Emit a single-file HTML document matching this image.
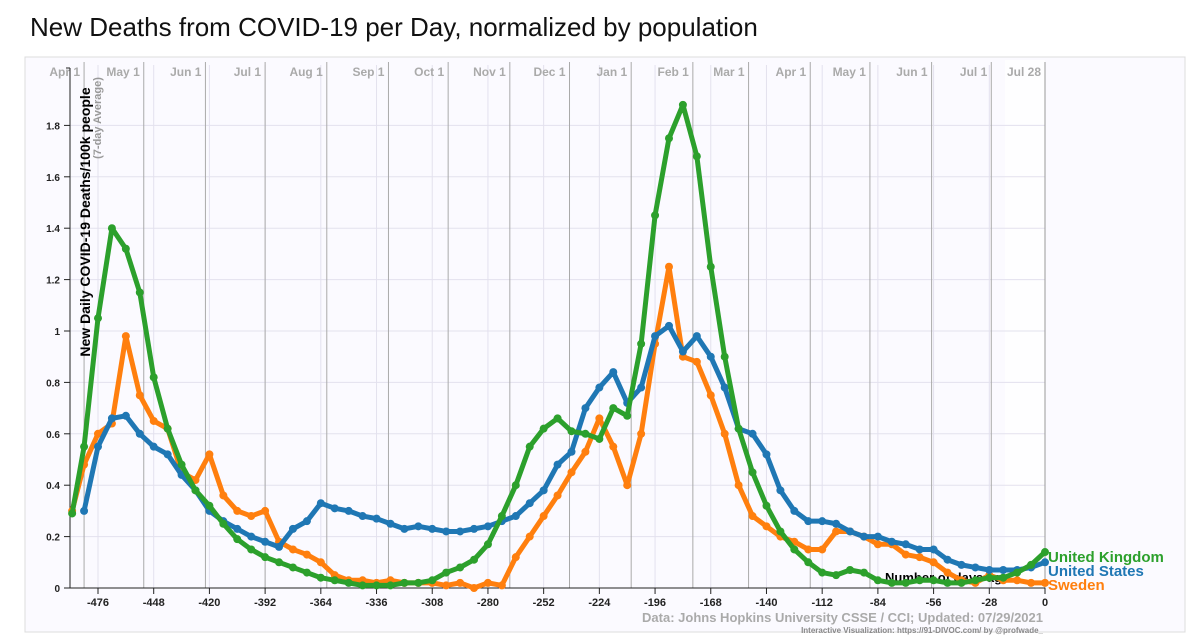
<!DOCTYPE html>
<html><head><meta charset="utf-8">
<style>
body{margin:0;background:#fff;width:1200px;height:637px;overflow:hidden;font-family:"Liberation Sans",sans-serif;}
#title{position:absolute;left:30px;top:12px;font-size:26px;color:#111;}
</style></head>
<body>
<div id="title">New Deaths from COVID-19 per Day, normalized by population</div>
<svg id="chart" width="1200" height="637" style="position:absolute;left:0;top:0"></svg>
<script>
const days = [-489,-483,-476,-469,-462,-455,-448,-441,-434,-427,-420,-413,-406,-399,-392,-385,-378,-371,-364,-357,-350,-343,-336,-329,-322,-315,-308,-301,-294,-287,-280,-273,-266,-259,-252,-245,-238,-231,-224,-217,-210,-203,-196,-189,-182,-175,-168,-161,-154,-147,-140,-133,-126,-119,-112,-105,-98,-91,-84,-77,-70,-63,-56,-49,-42,-35,-28,-21,-14,-7,0];
const ukValues = [0.29,0.55,1.05,1.40,1.32,1.15,0.82,0.62,0.48,0.38,0.32,0.25,0.19,0.15,0.12,0.10,0.08,0.06,0.04,0.03,0.02,0.01,0.01,0.01,0.02,0.02,0.03,0.06,0.08,0.11,0.17,0.28,0.40,0.55,0.62,0.66,0.61,0.60,0.58,0.70,0.67,0.95,1.45,1.75,1.88,1.68,1.25,0.90,0.62,0.45,0.32,0.22,0.15,0.10,0.06,0.05,0.07,0.06,0.03,0.02,0.02,0.03,0.03,0.02,0.02,0.03,0.04,0.04,0.06,0.09,0.14];
const usValues = [null,0.30,0.55,0.66,0.67,0.60,0.55,0.52,0.44,0.38,0.30,0.26,0.23,0.20,0.18,0.16,0.23,0.26,0.33,0.31,0.30,0.28,0.27,0.25,0.23,0.24,0.23,0.22,0.22,0.23,0.24,0.26,0.28,0.33,0.38,0.48,0.53,0.70,0.78,0.84,0.72,0.78,0.98,1.02,0.92,0.98,0.90,0.78,0.62,0.60,0.52,0.38,0.30,0.26,0.26,0.25,0.22,0.20,0.20,0.18,0.17,0.15,0.15,0.11,0.09,0.08,0.07,0.07,0.07,0.08,0.10];
const seValues = [0.30,0.48,0.60,0.64,0.98,0.75,0.65,0.62,0.45,0.42,0.52,0.36,0.30,0.28,0.30,0.18,0.15,0.13,0.10,0.05,0.03,0.03,0.02,0.03,0.02,0.02,0.02,0.01,0.02,0.00,0.02,0.01,0.12,0.20,0.28,0.36,0.45,0.53,0.66,0.55,0.40,0.60,0.95,1.25,0.90,0.88,0.75,0.60,0.40,0.28,0.24,0.20,0.18,0.15,0.15,0.22,0.22,0.20,0.17,0.17,0.13,0.12,0.10,0.06,0.03,0.02,0.05,0.03,0.03,0.02,0.02];
const xTicks = [-476,-448,-420,-392,-364,-336,-308,-280,-252,-224,-196,-168,-140,-112,-84,-56,-28,0];
const yTicks = [0,0.2,0.4,0.6,0.8,1,1.2,1.4,1.6,1.8];
const monthLabels = ["Apr 1","May 1","Jun 1","Jul 1","Aug 1","Sep 1","Oct 1","Nov 1","Dec 1","Jan 1","Feb 1","Mar 1","Apr 1","May 1","Jun 1","Jul 1","Jul 28"];
const monthDays = [-483,-453,-422,-392,-361,-330,-300,-269,-239,-208,-177,-149,-118,-88,-57,-27,0];

const NS="http://www.w3.org/2000/svg";
const svg=document.getElementById('chart');
const X0=1045, XS=1.9895, Y0=588, YS=257;
function xs(d){return X0+d*XS;}
function ys(v){return Y0-v*YS;}
function el(tag,attrs,parent){const e=document.createElementNS(NS,tag);for(const k in attrs)e.setAttribute(k,attrs[k]);(parent||svg).appendChild(e);return e;}

const bg=el('rect',{x:25,y:57,width:1160,height:575,fill:'#fbfaff',stroke:'#ddd'});


const fade=el('rect',{x:1005,y:60,width:40,height:528,fill:'#fff',opacity:0.7});



yTicks.forEach(v=>{
  const g=el('line',{x1:70,x2:1045,y1:ys(v),y2:ys(v),stroke:'#e3e1ee','stroke-width':1});
  
  
  el('line',{x1:64,x2:70,y1:ys(v),y2:ys(v),stroke:'#222'});
  const t=el('text',{x:60,y:ys(v)+4,'text-anchor':'end','font-size':10,'font-weight':'bold',fill:'#222'});
  t.textContent=v;
  
  
});
xTicks.forEach(d=>{
  const g=el('line',{x1:xs(d),x2:xs(d),y1:65,y2:588,stroke:'#e3e1ee'});
  
  
  el('line',{x1:xs(d),x2:xs(d),y1:588,y2:594,stroke:'#222'});
  const t=el('text',{x:xs(d),y:606,'text-anchor':'middle','font-size':11,'font-weight':'bold',fill:'#222'});
  t.textContent=d;
  
  
});
monthDays.forEach((d,i)=>{
  const l=el('line',{x1:xs(d),x2:xs(d),y1:62,y2:588,stroke:i===monthDays.length-1?'#999':'#aaa','stroke-width':1});
  
  
  const t=el('text',{x:xs(d)-4,y:76,'text-anchor':'end','font-size':12,'font-weight':'bold',fill:'#aaa'});
  t.textContent=monthLabels[i];
  
  
});
el('line',{x1:70,x2:70,y1:68,y2:588,stroke:'#222'});
el('line',{x1:66,x2:70,y1:68,y2:68,stroke:'#222'});
el('line',{x1:70,x2:1045,y1:588,y2:588,stroke:'#222'});

const nd=el('text',{x:1010,y:582,'text-anchor':'end','font-size':13,'font-weight':'bold',fill:'#000'});
nd.textContent='Number of days ago';



const yt=el('text',{transform:'translate(90,222) rotate(-90)','text-anchor':'middle','font-size':14,'font-weight':'bold',fill:'#000'});
yt.textContent='New Daily COVID-19 Deaths/100k people';


const ys2=el('text',{transform:'translate(101,118) rotate(-90)','text-anchor':'middle','font-size':11,'font-weight':'bold',fill:'#999'});
ys2.textContent='(7-day Average)';



function series(vals,color,name){
  const g=el('g',{});
  
  
  let d='';let started=false;
  days.forEach((day,i)=>{const v=vals[i];if(v===null)return;d+=(started?'L':'M')+xs(day)+' '+ys(v)+' ';started=true;});
  el('path',{d:d,fill:'none',stroke:color,'stroke-width':5,'stroke-linejoin':'round'},g);
  days.forEach((day,i)=>{const v=vals[i];if(v===null)return;
    const c=el('circle',{cx:xs(day),cy:ys(v),r:4,fill:color},g);
    
    
  });
}
series(seValues,'#ff7f0e','sweden-series');
series(usValues,'#1f77b4','united-states-series');
series(ukValues,'#2ca02c','united-kingdom-series');

[['United Kingdom','#2ca02c',562,'legend-united-kingdom'],['United States','#1f77b4',576,'legend-united-states'],['Sweden','#ff7f0e',590,'legend-sweden']].forEach(l=>{
  const t=el('text',{x:1048,y:l[2],'font-size':15,'font-weight':'bold',fill:l[1]});
  t.textContent=l[0];
  
  
});
const src=el('text',{x:1043,y:622,'text-anchor':'end','font-size':13,'font-weight':'bold',fill:'#aaa'});
src.textContent='Data: Johns Hopkins University CSSE / CCI; Updated: 07/29/2021';


const cr=el('text',{x:1043,y:633,'text-anchor':'end','font-size':8,'font-weight':'bold',fill:'#888'});
cr.textContent='Interactive Visualization: https://91-DIVOC.com/ by @profwade_';


</script>
</body></html>
